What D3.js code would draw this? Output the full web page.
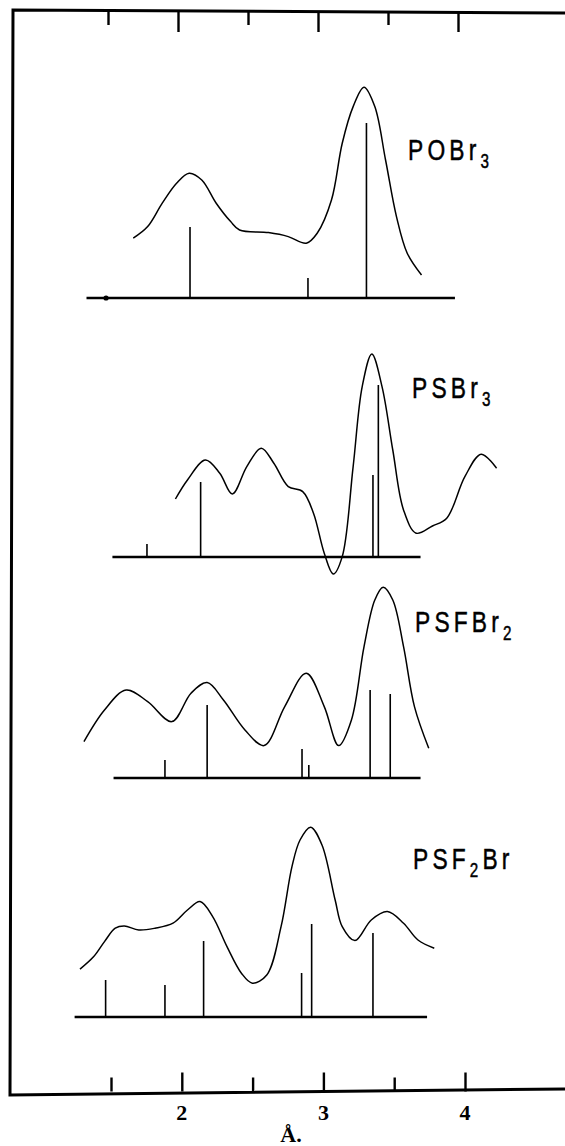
<!DOCTYPE html>
<html>
<head>
<meta charset="utf-8">
<script src="https://cdn.jsdelivr.net/npm/d3@7"></script>
<style>
  body { margin: 0; background: #fff; }
  svg { display: block; }
  .curve { fill: none; stroke: #000; stroke-width: 1.5; }
  .stick { stroke: #000; stroke-width: 1.6; }
  .base { stroke: #000; stroke-width: 2.6; }
  .frame { fill: none; stroke: #000; stroke-width: 3; }
  .lab { font-family: "Liberation Sans", Arial, sans-serif; font-size: 30px; fill: #000; stroke: #000; stroke-width: 0.5; }
  .num { font-family: "Liberation Serif", "DejaVu Serif", serif; font-weight: bold; font-size: 22px; fill: #000; }
</style>
</head>
<body>
<svg width="565" height="1146"></svg>
<script>
// radial distribution curves, distance in angstroms, amplitude in arbitrary units (0 = baseline)

// POBr3
var pobr3Curve = [[1.657, 29.9], [1.759, 35.7], [1.862, 47.4], [1.963, 57.4], [2.052, 62.4],
  [2.141, 59], [2.243, 47.4], [2.345, 38.2], [2.408, 34], [2.612, 32.7], [2.752, 30.7],
  [2.879, 27.4], [2.956, 32.4], [3.057, 49], [3.133, 77.4], [3.210, 95.7], [3.287, 105.4],
  [3.363, 95.7], [3.439, 69], [3.516, 40.7], [3.592, 22.4], [3.693, 11.5]];
var pobr3Sticks = [[2.058, 35.5], [2.891, 10], [3.304, 87.5]];
var pobr3Base = [1.327, 3.929];

// PSBr3
var psbr3Curve = [[1.955, 29], [2.040, 38.5], [2.167, 48.5], [2.268, 41.9], [2.357, 31.5],
  [2.459, 45.2], [2.561, 54.4], [2.650, 46.9], [2.752, 35.2], [2.854, 32.7], [2.930, 21.9],
  [3.006, 1.9], [3.070, -8.5], [3.133, 0.2], [3.210, 45.2], [3.274, 85.2], [3.342, 101.5],
  [3.414, 85.2], [3.490, 53.5], [3.566, 23.5], [3.655, 11.9], [3.770, 15.5], [3.871, 19.4],
  [3.999, 40.2], [4.114, 51.4], [4.223, 44.4]];
var psbr3Sticks = [[1.754, 6.5], [2.133, 37.5], [3.350, 41], [3.388, 86]];
var psbr3Base = [1.51, 3.686];

// PSFBr2
var psfbr2Curve = [[1.309, 18.2], [1.454, 34], [1.607, 44], [1.759, 38.2], [1.930, 28.2],
  [2.065, 42.4], [2.179, 47.7], [2.294, 39], [2.446, 24], [2.581, 16.2], [2.727, 35.7],
  [2.879, 52.4], [3.006, 35.7], [3.108, 16.2], [3.198, 29], [3.287, 65.7], [3.363, 89],
  [3.422, 95.4], [3.490, 89], [3.566, 65.7], [3.643, 35.7], [3.744, 14.9]];
var psfbr2Sticks = [[1.881, 9], [2.179, 36.5], [2.849, 14.5], [2.897, 6.5], [3.330, 44], [3.472, 42]];
var psfbr2Base = [1.518, 3.686];

// PSF2Br
var psf2brCurve = [[1.281, 23.9], [1.378, 30.2], [1.454, 37.7], [1.530, 44.4], [1.594, 45.5],
  [1.696, 43.5], [1.811, 44.4], [1.938, 46.9], [2.040, 53.5], [2.129, 57.7], [2.218, 50.2],
  [2.319, 35.2], [2.421, 21.9], [2.498, 16.9], [2.600, 21], [2.701, 45.2], [2.778, 75.2],
  [2.835, 88.5], [2.910, 94.9], [2.990, 86], [3.083, 58.5], [3.133, 45.2], [3.223, 38.2],
  [3.338, 48.5], [3.452, 52.7], [3.566, 46.9], [3.668, 38.5], [3.783, 34.4]];
var psf2brSticks = [[1.462, 18.5], [1.881, 16], [2.154, 38], [2.846, 22], [2.917, 46.5], [3.350, 42]];
var psf2brBase = [1.243, 3.732];

// axis
var majorTicks = [2, 3, 4];
var minorTicks = [1.5, 2.5, 3.5];
var tickLabels = ["2", "3", "4"];
var axisTitle = "Å.";
var originMark = [1.465];

// layout (pixels)
var svg = d3.select("svg");
var xBot = d3.scaleLinear().domain([1.5, 4]).range([111, 465]);
var xTop = d3.scaleLinear().domain([1.5, 4]).range([108, 458]);

var panels = [
  {curve: pobr3Curve, sticks: pobr3Sticks, base: pobr3Base, y0: 298,
   label: [["PO", 0], ["Br", 0], ["3", 1]], lx: 408, ly: 160},
  {curve: psbr3Curve, sticks: psbr3Sticks, base: psbr3Base, y0: 557,
   label: [["PSBr", 0], ["3", 1]], lx: 412, ly: 398},
  {curve: psfbr2Curve, sticks: psfbr2Sticks, base: psfbr2Base, y0: 778,
   label: [["PSFBr", 0], ["2", 1]], lx: 415, ly: 632},
  {curve: psf2brCurve, sticks: psf2brSticks, base: psf2brBase, y0: 1017,
   label: [["PSF", 0], ["2", 1], ["Br", 0]], lx: 413, ly: 869}
];

// frame
svg.append("path").attr("class", "frame")
  .attr("d", "M565,13 L13,10 L10,1095 L565,1089");

panels.forEach(function(p, i) {
  var y = d3.scaleLinear().domain([0, 100]).range([p.y0, p.y0 - 200]);
  var g = svg.append("g");

  g.append("line").attr("class", "base")
    .attr("x1", xBot(p.base[0])).attr("x2", xBot(p.base[1]))
    .attr("y1", y(0)).attr("y2", y(0));

  g.selectAll(".stick").data(p.sticks).enter().append("line")
    .attr("class", "stick")
    .attr("x1", function(d) { return xBot(d[0]); })
    .attr("x2", function(d) { return xBot(d[0]); })
    .attr("y1", y(0))
    .attr("y2", function(d) { return y(d[1]); });

  var line = d3.line()
    .x(function(d) { return xBot(d[0]); })
    .y(function(d) { return y(d[1]); })
    .curve(d3.curveCatmullRom.alpha(0.5));
  g.append("path").datum(p.curve).attr("class", "curve").attr("d", line);

  if (i == 0) {
    g.selectAll(".mark").data(originMark).enter().append("circle")
      .attr("cx", function(d) { return xBot(d); }).attr("cy", y(0)).attr("r", 2.6);
  }

  // formula label, hand-lettered look: narrow glyphs, wide spacing
  var t = g.append("text").attr("class", "lab")
    .attr("transform", "translate(" + p.lx + "," + p.ly + ") scale(0.76,1)")
    .attr("letter-spacing", 5.5);
  var shift = 0;
  p.label.forEach(function(part) {
    var dy = part[1] ? 8 - shift : -shift;
    shift = part[1] ? 8 : 0;
    t.append("tspan").text(part[0])
      .attr("dy", dy)
      .attr("font-size", part[1] ? 20 : 30);
  });
});

// top ticks
var topAxis = svg.append("g").attr("transform", "translate(0,11)");
topAxis.call(d3.axisBottom(xTop).tickValues(majorTicks).tickSize(21).tickSizeOuter(0).tickFormat(""));
topAxis.append("g").call(d3.axisBottom(xTop).tickValues(minorTicks).tickSize(14).tickSizeOuter(0).tickFormat(""));

// bottom ticks
var botAxis = svg.append("g").attr("transform", "translate(0,1091.5)");
botAxis.call(d3.axisTop(xBot).tickValues(majorTicks).tickSize(19).tickSizeOuter(0).tickFormat(""));
botAxis.append("g").call(d3.axisTop(xBot).tickValues(minorTicks).tickSize(14).tickSizeOuter(0).tickFormat(""));

svg.selectAll(".domain").remove();
svg.selectAll(".tick line").attr("stroke", "#000").attr("stroke-width", 2.4);

svg.selectAll(".num").data(majorTicks).enter().append("text")
  .attr("class", "num")
  .attr("x", function(d) { return xBot(d); })
  .attr("y", 1120)
  .attr("text-anchor", "middle")
  .text(function(d, i) { return tickLabels[i]; });

svg.append("text").attr("class", "num")
  .attr("x", 291).attr("y", 1142)
  .attr("text-anchor", "middle")
  .attr("font-size", 19)
  .text(axisTitle);
</script>
</body>
</html>
